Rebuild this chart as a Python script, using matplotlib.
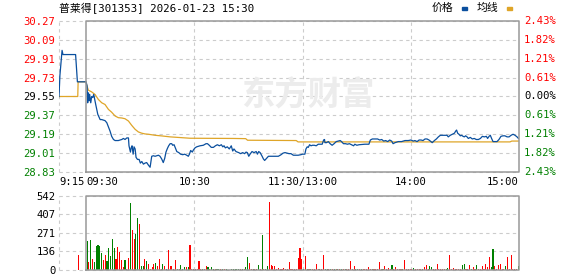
import matplotlib.pyplot as plt
from matplotlib.patches import Rectangle

# ---------------------------------------------------------------
# Data (minutes from 09:30, pre-market starts at -15 = 9:15)
# ---------------------------------------------------------------
prev_close = 29.55
price_ticks = [28.83, 29.01, 29.19, 29.37, 29.55, 29.73, 29.91, 30.09, 30.27]
pct_labels = ['2.43%', '1.82%', '1.21%', '0.61%', '0.00%',
              '0.61%', '1.21%', '1.82%', '2.43%']
vol_ticks = [0, 136, 271, 407, 542]
time_pos = [-15, 0, 60, 120, 180, 240]
time_labels = ['9:15', '09:30', '10:30', '11:30/13:00', '14:00', '15:00']

pre_t = [-15, -14.5, -13.3, -12.8, -5.8, -4.8, 0]
pre_p = [29.55, 29.75, 29.99, 29.95, 29.95, 29.69, 29.69]
pre_avg_t = [-15, -4.6, -4.4, 0]
pre_avg_p = [29.55, 29.55, 29.69, 29.69]

price_t = [0.55, 0.9, 1.3, 1.7, 2.0, 2.6, 3.1, 3.7, 4.25, 4.8, 5.4, 5.9, 6.5,
           7.0, 7.8, 8.7, 10.5, 11.5, 12.4, 13.3, 14.2, 15.2, 16.1, 17.9, 19.8,
           20.7, 21.6, 22.6, 23.5, 23.8, 24.6, 25.0, 25.5, 26.1, 26.6, 27.2,
           27.7, 28.5, 29.4, 30.1, 30.9, 31.8, 32.7, 33.6, 34.6, 35.5, 36.4,
           37.3, 38.3, 39.2, 40.1, 41.0, 41.9, 42.8, 43.6, 44.3, 45.1, 45.8,
           46.6, 47.5, 48.0, 48.8, 49.5, 50.3, 51.4, 52.4, 53.6, 54.7, 55.8,
           56.7, 57.3, 58.0, 58.9, 59.5, 60.4, 61.3, 63.2, 65.0, 66.5, 67.3,
           68.3, 69.4, 70.6, 71.7, 72.8, 73.9, 75.0, 75.8, 76.5, 77.2, 78.3,
           79.4, 80.5, 81.3, 82.0, 83.1, 84.6, 85.7, 86.8, 87.9, 88.7, 89.4,
           90.2, 90.9, 92.0, 93.1, 94.3, 95.0, 95.7, 96.5, 97.6, 98.3, 99.0,
           99.8, 101.1, 102.9, 104.8, 106.6, 108.1, 109.2, 110.3, 111.3, 112.5,
           113.6, 114.9, 116.1, 117.6, 119.1, 120.0, 121.3, 121.9, 122.6,
           123.2, 123.9, 124.7, 125.5, 126.5, 127.6, 128.7, 130.9, 131.7,
           132.2, 132.4, 133.3, 134.3, 135.3, 136.4, 137.5, 138.7, 139.8,
           140.9, 141.6, 142.7, 143.8, 144.9, 146.0, 147.2, 148.3, 149.0,
           150.1, 151.3, 154.6, 156.8, 157.6, 158.7, 161.6, 162.8, 163.9,
           165.0, 166.1, 167.2, 168.3, 169.4, 170.2, 171.3, 173.1, 174.9,
           176.8, 178.6, 180.1, 181.4, 182.3, 183.5, 184.6, 185.7, 186.8,
           187.9, 189.0, 190.1, 191.2, 191.9, 193.1, 194.2, 195.3, 196.4,
           200.1, 200.8, 201.9, 203.1, 204.2, 204.9, 205.4, 206.0, 206.7,
           207.5, 208.2, 209.0, 209.7, 210.4, 211.2, 211.9, 213.0, 214.1,
           215.2, 216.3, 217.5, 218.6, 219.7, 220.8, 221.9, 222.6, 223.4,
           224.1, 224.8, 225.6, 227.8, 228.9, 230.0, 231.1, 232.2, 233.4,
           234.5, 235.6, 236.7, 237.8, 238.9, 239.7]
price_p = [29.65, 29.49, 29.585, 29.51, 29.57, 29.49, 29.55, 29.54, 29.57,
           29.52, 29.47, 29.43, 29.38, 29.36, 29.33, 29.33, 29.32, 29.30,
           29.26, 29.22, 29.17, 29.14, 29.13, 29.13, 29.14, 29.15, 29.14,
           29.155, 29.155, 29.08, 29.02, 29.06, 29.08, 29.00, 29.07, 29.05,
           28.97, 28.95, 28.95, 28.915, 28.93, 28.905, 28.915, 28.92, 28.895,
           28.875, 28.98, 28.985, 28.98, 28.985, 28.99, 28.98, 28.955, 28.92,
           28.96, 29.02, 29.055, 29.08, 29.10, 29.10, 29.085, 29.09, 29.06,
           29.025, 29.015, 29.0, 28.995, 29.0, 28.99, 28.98, 29.0, 29.035,
           29.02, 29.04, 29.06, 29.07, 29.08, 29.085, 29.10, 29.10, 29.085,
           29.065, 29.065, 29.08, 29.09, 29.08, 29.09, 29.07, 29.08, 29.06,
           29.07, 29.05, 29.08, 29.03, 29.05, 29.025, 29.015, 29.005, 29.015,
           29.005, 29.02, 29.015, 28.98, 29.0, 29.025, 29.015, 29.025, 29.0,
           29.025, 29.015, 28.98, 28.955, 28.94, 28.955, 28.98, 28.98, 28.98,
           28.98, 28.995, 29.01, 29.015, 29.01, 29.005, 29.005, 28.99, 28.99,
           28.99, 28.995, 29.0, 29.0, 29.05, 29.07, 29.065, 29.09, 29.08,
           29.085, 29.085, 29.08, 29.095, 29.095, 29.135, 29.14, 29.11, 29.11,
           29.12, 29.10, 29.085, 29.10, 29.12, 29.125, 29.13, 29.12, 29.10,
           29.10, 29.095, 29.10, 29.09, 29.08, 29.095, 29.085, 29.09, 29.095,
           29.095, 29.135, 29.145, 29.145, 29.135, 29.14, 29.125, 29.13, 29.12,
           29.135, 29.125, 29.10, 29.11, 29.12, 29.12, 29.13, 29.13, 29.135,
           29.125, 29.13, 29.12, 29.135, 29.135, 29.13, 29.145, 29.145, 29.135,
           29.12, 29.11, 29.13, 29.145, 29.165, 29.18, 29.18, 29.165, 29.18,
           29.19, 29.20, 29.22, 29.23, 29.20, 29.19, 29.175, 29.18, 29.17,
           29.165, 29.175, 29.165, 29.15, 29.16, 29.145, 29.15, 29.14, 29.14,
           29.15, 29.17, 29.165, 29.17, 29.15, 29.17, 29.18, 29.15, 29.12,
           29.12, 29.14, 29.17, 29.175, 29.175, 29.165, 29.165, 29.18, 29.19,
           29.18, 29.165, 29.15]

avg_t = [0.55, 1.3, 3.1, 5.0, 6.8, 8.7, 10.5, 12.4, 14.2, 16.1, 17.9, 19.8,
         21.6, 23.5, 25.3, 27.2, 29.0, 30.9, 32.7, 34.6, 38.3, 42.0, 46.6,
         57.6, 81.6, 88.5, 89.5, 116.5, 117.5, 235.0, 236.0, 240.0]
avg_p = [29.648, 29.61, 29.594, 29.569, 29.522, 29.49, 29.474, 29.427, 29.40,
         29.364, 29.348, 29.345, 29.338, 29.316, 29.275, 29.237, 29.212, 29.20,
         29.193, 29.19, 29.18, 29.174, 29.165, 29.152, 29.15, 29.148, 29.133,
         29.13, 29.117, 29.117, 29.125, 29.125]

# call auction volume (9:25)
pre_vol_t = -5
pre_vol = 110

# volume per minute, 09:31 .. 15:00 ; r = up, g = down
volume = [212, 59, 220, 81, 59, 176, 183, 176, 127, 73,
          110, 66, 161, 103, 227, 161, 81, 168, 134, 73,
          22, 73, 5, 88, 491, 293, 227, 264, 378, 337,
          29, 29, 81, 66, 44, 7, 20, 44, 51, 29,
          81, 5, 44, 29, 8, 146, 29, 29, 5, 73,
          10, 10, 37, 5, 20, 20, 20, 183, 5, 7,
          7, 5, 66, 5, 5, 5, 27, 20, 5, 20,
          5, 5, 5, 7, 5, 5, 5, 5, 3, 3,
          5, 7, 5, 5, 7, 5, 5, 5, 20, 93,
          49, 5, 5, 7, 5, 37, 5, 256, 5, 5,
          27, 498, 37, 29, 29, 10, 15, 7, 10, 15,
          7, 5, 59, 7, 5, 7, 5, 88, 161, 81,
          5, 103, 5, 5, 5, 5, 10, 44, 5, 5,
          10, 110, 5, 5, 5, 5, 5, 5, 10, 5,
          5, 5, 5, 5, 5, 5, 66, 5, 27, 5,
          5, 10, 5, 5, 5, 5, 20, 5, 5, 5,
          5, 5, 59, 5, 5, 27, 5, 15, 5, 37,
          5, 20, 5, 5, 5, 5, 73, 5, 5, 5,
          5, 15, 5, 5, 5, 10, 5, 20, 37, 5,
          27, 22, 5, 5, 44, 5, 5, 5, 5, 5,
          15, 110, 5, 15, 5, 5, 5, 5, 37, 44,
          10, 5, 37, 5, 22, 5, 37, 5, 5, 29,
          5, 44, 22, 95, 22, 154, 29, 5, 37, 44,
          5, 5, 29, 95, 5, 110, 5, 5, 5, 29]
vol_dir = ('grgrgggggr' 'rgggggrrrr' 'rgrrgrrggr' 'ggrgrrrrgr'
           'rrgrgrrrrr' 'grgggrgrrr' 'rrrrgrrgrg' 'grggrgrgrg'
           'gggggrgrgg' 'rrgrrgrgrg' 'grrrrrrrrr' 'rrrrrrrrrr'
           'grgrgrrrrg' 'rrggrgrgrg' 'rgrgrrrrrg' 'grgrrrrrgr'
           'rrrrgrrrrg' 'rrrrrgrrrr' 'rgrrrrgrrr' 'ggrrrrrrrg'
           'grrrrrrrgg' 'rrrgrrgrrr' 'rrrrggrrrr' 'rrgrrrrrrg')

# ---------------------------------------------------------------
# Plot
# ---------------------------------------------------------------
W, H = 578, 276
UP, DOWN, FLAT = '#ff0000', '#008000', '#000000'
GRID, FRAME = '#cccccc', '#999999'
MONO = 'DejaVu Sans Mono'

fig = plt.figure(figsize=(W / 100, H / 100), dpi=100)
ax = fig.add_axes([59 / W, 1 - 172 / H, 460 / W, 151 / H])
ax2 = fig.add_axes([59 / W, 1 - 270 / H, 460 / W, 74 / H])

lo, hi = price_ticks[0], price_ticks[-1]


def setup(a, ylo, yhi, yticks):
    a.set_xlim(-15, 240)
    a.set_ylim(ylo, yhi)
    for s in a.spines.values():
        s.set_visible(False)
    a.set_xticks([])
    a.set_yticks(yticks)
    a.tick_params(axis='y', length=0, pad=2.5, labelsize=7.6)
    for yv in yticks:
        a.plot([-15, 240], [yv, yv], ls=(0, (3, 3)), color=GRID, lw=0.8,
               zorder=0, clip_on=False)
    for xv in [-15, 60, 120, 180]:
        a.plot([xv, xv], [ylo, yhi], ls=(0, (3, 3)), color=GRID, lw=0.8,
               zorder=0, clip_on=False)
    a.plot([0, 240, 240, 0, 0], [ylo, ylo, yhi, yhi, ylo], color=FRAME,
           lw=1.1, zorder=5, clip_on=False)


setup(ax, lo, hi, price_ticks)
ax.set_yticklabels([f'{p:.2f}' for p in price_ticks], family=MONO)
for lab, p in zip(ax.get_yticklabels(), price_ticks):
    lab.set_color(UP if p > prev_close + 1e-6 else DOWN if p < prev_close - 1e-6 else FLAT)

for p, txt in zip(price_ticks, pct_labels):
    c = UP if p > prev_close + 1e-6 else DOWN if p < prev_close - 1e-6 else FLAT
    ax.text(1.011, p, txt, transform=ax.get_yaxis_transform(), color=c,
            fontsize=7.6, family=MONO, va='center', ha='left')

# watermark
ax.text(0.54, 0.50, '东方财富', transform=ax.transAxes, fontsize=24,
        family='Noto Sans CJK SC', weight='bold', color='#ececec',
        ha='center', va='center', zorder=0)

# lines
ax.plot(pre_avg_t + avg_t, pre_avg_p + avg_p, color='#dfa528', lw=0.9, zorder=3)
ax.plot(pre_t + price_t, pre_p + price_p, color='#0a4f9e', lw=0.9, zorder=4)

# time labels
aligns = ['left', 'left', 'center', 'center', 'center', 'right']
for xv, txt, ha in zip(time_pos, time_labels, aligns):
    ax.text(xv, -0.066, txt, transform=ax.get_xaxis_transform(), ha=ha,
            va='center', fontsize=7.6, family=MONO)

# volume
setup(ax2, 0, vol_ticks[-1], vol_ticks)
ax2.set_yticklabels([str(v) for v in vol_ticks], family=MONO, color='#000000')
minutes = [i + 0.6 for i in range(len(volume))]
colors = [UP if d == 'r' else DOWN for d in vol_dir]
ax2.bar(minutes, volume, width=0.6, color=colors, linewidth=0, zorder=3)
ax2.bar([pre_vol_t + 0.6], [pre_vol], width=0.6, color=UP, linewidth=0, zorder=3)

# title and legend
fig.text(59 / W, 1 - 8 / H, '普莱得[301353] 2026-01-23 15:30',
         family=[MONO, 'Noto Sans CJK SC'], fontsize=7.8, va='center')
fig.text(432 / W, 1 - 8 / H, '价格', family='Noto Sans CJK SC', fontsize=7.8,
         va='center')
fig.patches.append(Rectangle((462 / W, 1 - 10 / H), 5 / W, 3 / H,
                             transform=fig.transFigure, color='#0a4f9e'))
fig.text(477 / W, 1 - 8 / H, '均线', family='Noto Sans CJK SC', fontsize=7.8,
         va='center')
fig.patches.append(Rectangle((507 / W, 1 - 10 / H), 5 / W, 3 / H,
                             transform=fig.transFigure, color='#dfa528'))

fig.savefig('out.png', dpi=100)
